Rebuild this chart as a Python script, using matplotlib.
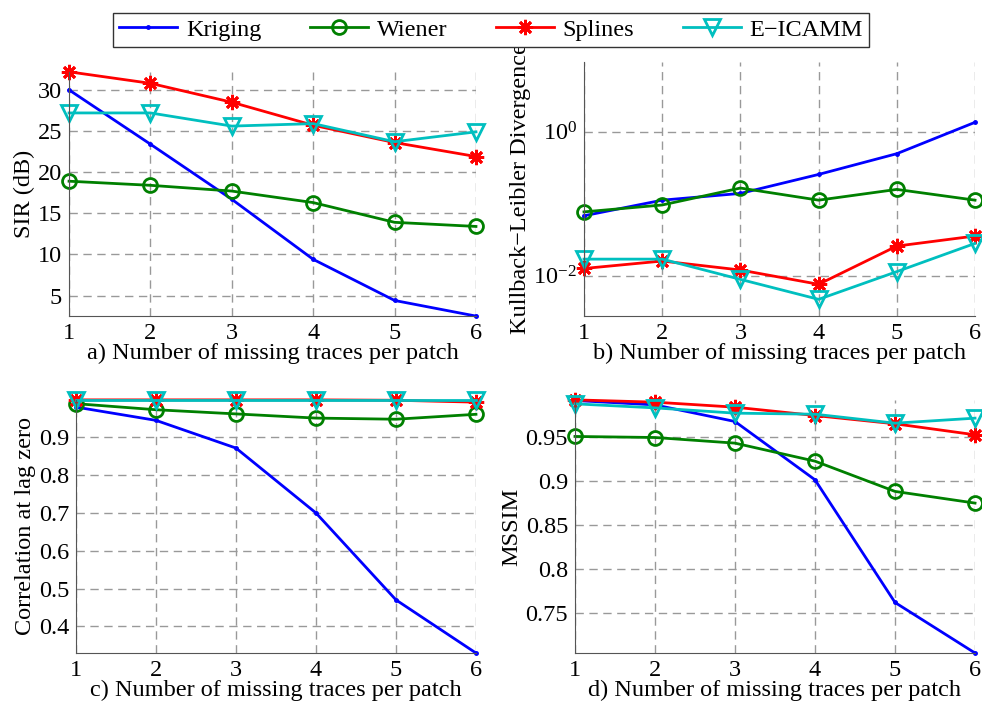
import matplotlib
matplotlib.use('Agg')
import matplotlib.pyplot as plt

plt.rcParams['font.family'] = ['Liberation Serif', 'DejaVu Serif']
plt.rcParams['mathtext.fontset'] = 'stix'
plt.rcParams['font.size'] = 17.5

x = [1, 2, 3, 4, 5, 6]
methods = ['Kriging', 'Wiener', 'Splines', 'E\u2212ICAMM']

# a) SIR (dB)
sir_kriging = [30.0, 23.4, 16.7, 9.4, 4.4, 2.5]
sir_wiener = [18.9, 18.4, 17.7, 16.3, 13.9, 13.4]
sir_splines = [32.2, 30.8, 28.5, 25.7, 23.6, 21.9]
sir_eicamm = [27.2, 27.2, 25.6, 25.9, 23.7, 24.9]

# b) Kullback-Leibler divergence
kld_kriging = [0.068, 0.112, 0.139, 0.255, 0.495, 1.35]
kld_wiener = [0.077, 0.096, 0.165, 0.112, 0.158, 0.112]
kld_splines = [0.0126, 0.016, 0.012, 0.0076, 0.0258, 0.0356]
kld_eicamm = [0.017, 0.017, 0.0089, 0.0047, 0.0114, 0.0281]

# c) correlation at lag zero
cor_kriging = [0.978, 0.943, 0.870, 0.699, 0.470, 0.330]
cor_wiener = [0.987, 0.971, 0.960, 0.949, 0.946, 0.959]
cor_splines = [0.997, 0.997, 0.997, 0.997, 0.996, 0.991]
cor_eicamm = [0.997, 0.997, 0.997, 0.997, 0.997, 0.997]

# d) MSSIM
ms_kriging = [0.9917, 0.9867, 0.9678, 0.9015, 0.762, 0.7045]
ms_wiener = [0.9508, 0.9496, 0.9432, 0.9227, 0.8883, 0.875]
ms_splines = [0.9924, 0.9898, 0.9841, 0.9746, 0.9652, 0.9527]
ms_eicamm = [0.9879, 0.9833, 0.9773, 0.9761, 0.9659, 0.9716]

styles = [
    dict(color='#0000ff', marker='.', markersize=5),
    dict(color='#008000', marker='o', markersize=10, markerfacecolor='none', markeredgewidth=2),
    dict(color='#ff0000', marker=(8, 2, 0), markersize=11, markeredgewidth=2),
    dict(color='#00bfbf', marker='v', markersize=11, markerfacecolor='none', markeredgewidth=2),
]

fig = plt.figure(figsize=(9.82, 7.04), dpi=100)

panels = [
    ([0.0703, 0.551, 0.4144, 0.347], [sir_kriging, sir_wiener, sir_splines, sir_eicamm],
     'SIR (dB)', 'a) Number of missing traces per patch'),
    ([0.5947, 0.551, 0.3982, 0.361], [kld_kriging, kld_wiener, kld_splines, kld_eicamm],
     'Kullback\u2212Leibler Divergence', 'b) Number of missing traces per patch'),
    ([0.0774, 0.0724, 0.4073, 0.3596], [cor_kriging, cor_wiener, cor_splines, cor_eicamm],
     'Correlation at lag zero', 'c) Number of missing traces per patch'),
    ([0.5855, 0.0724, 0.4074, 0.3596], [ms_kriging, ms_wiener, ms_splines, ms_eicamm],
     'MSSIM', 'd) Number of missing traces per patch'),
]

handles = []
for i, (rect, series, ylab, xlab) in enumerate(panels):
    ax = fig.add_axes(rect)
    for vals, name, st in zip(series, methods, styles):
        h, = ax.plot(x, vals, lw=2, label=name, clip_on=False, **st)
        if i == 0:
            handles.append(h)
    ax.set_xlim(1, 6)
    ax.set_xticks(x)
    ax.spines['top'].set_visible(False)
    ax.spines['right'].set_visible(False)
    for s in ('left', 'bottom'):
        ax.spines[s].set_color('#555555')
    ax.grid(True, color='#999999', linestyle=(0, (6, 4)), linewidth=1)
    ax.tick_params(direction='in', length=0, pad=5)
    ax.set_ylabel(ylab, labelpad=2)
    ax.set_xlabel(xlab, labelpad=-1)
    if i == 0:
        ax.set_ylim(2.5, 32.2)
        ax.set_yticks([5, 10, 15, 20, 25, 30])
    elif i == 1:
        ax.set_yscale('log')
        ax.set_ylim(0.00275, 9.3)
        ax.set_yticks([1e-2, 1e0])
        ax.yaxis.set_minor_locator(matplotlib.ticker.NullLocator())
    elif i == 2:
        ax.set_ylim(0.33, 0.997)
        ax.set_yticks([0.4, 0.5, 0.6, 0.7, 0.8, 0.9])
    else:
        ax.set_ylim(0.7045, 0.9924)
        ax.set_yticks([0.75, 0.8, 0.85, 0.9, 0.95])
        ax.set_yticklabels(['0.75', '0.8', '0.85', '0.9', '0.95'])

leg = fig.legend(handles=handles, loc='upper center', bbox_to_anchor=(0.5, 0.982), ncol=4,
                 frameon=True, fancybox=False, edgecolor='#333333', framealpha=1,
                 handlelength=2.4, handletextpad=0.35, columnspacing=2.0, borderpad=0.25,
                 borderaxespad=0, fontsize=17.5)
leg.get_frame().set_linewidth(1)

fig.savefig('out.png', dpi=100)
